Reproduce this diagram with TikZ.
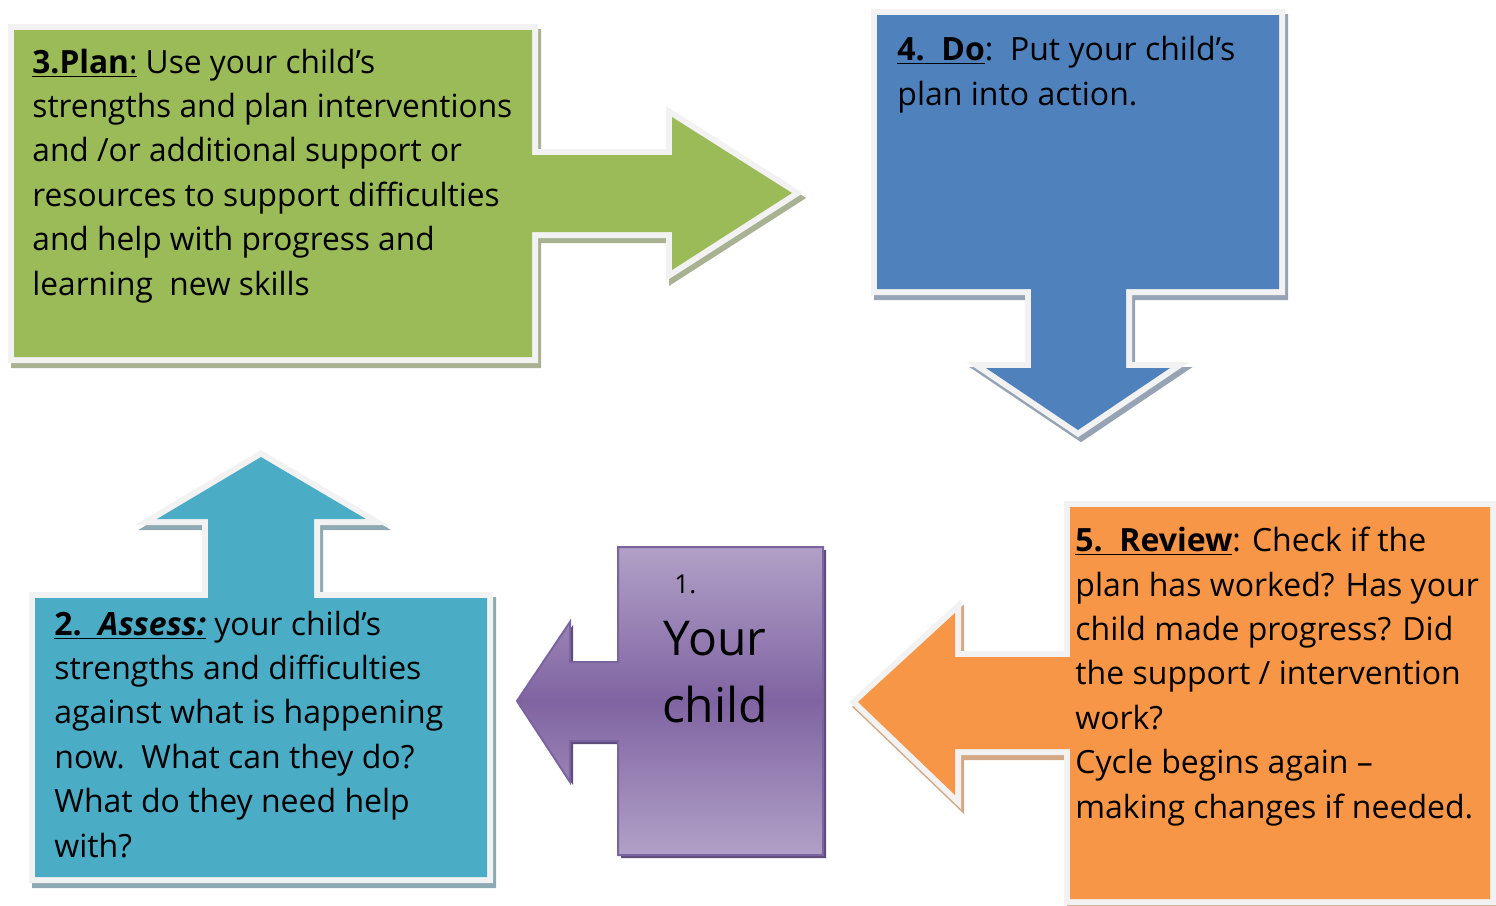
\documentclass[tikz,border=0pt]{standalone}
\usepackage{fontspec}
\setmainfont{Open Sans}
\newfontfamily\wideft{Open Sans}
\newfontfamily\condft[FakeStretch=0.99]{Open Sans}
\definecolor{frameC}{HTML}{F2F2F2}
\definecolor{gFill}{HTML}{9BBB59}
\definecolor{gShad}{HTML}{A8B292}
\definecolor{bFill}{HTML}{4F81BD}
\definecolor{bShad}{HTML}{96A3B5}
\definecolor{tFill}{HTML}{4BACC6}
\definecolor{tShad}{HTML}{8DA9B3}
\definecolor{oFill}{HTML}{F79646}
\definecolor{oShad}{HTML}{D3A985}
\definecolor{pLight}{HTML}{B1A0C7}
\definecolor{pDark}{HTML}{8064A2}
\definecolor{pEdge}{HTML}{7A64A0}
\definecolor{pShad}{HTML}{5F4A7B}
\newcommand\calloutshape[3]{%
  \draw[shift={(3,5)}, fill=#1, draw=#1, line width=6pt, miter limit=10] #3;
  \draw[draw=frameC, line width=6pt, miter limit=10] #3;
  \fill[#2] #3;
}
\begin{document}
\begin{tikzpicture}[x=0.5pt,y=-0.5pt,
  bodytext/.style={anchor=base west, inner sep=0pt, align=left, font=\wideft\fontsize{16}{22.2}\selectfont},
  condtext/.style={bodytext, font=\condft\fontsize{16}{22.2}\selectfont},
]
\useasboundingbox (0,0) rectangle (1496,906);

% 3. Plan (green, arrow right)
\calloutshape{gShad}{gFill}{(14,30) -- (532,30) -- (532,155) -- (672,155) -- (672,117) -- (792,193) -- (672,270) -- (672,232) -- (532,232) -- (532,357) -- (14,357) -- cycle}

% 4. Do (blue, arrow down)
\calloutshape{bShad}{bFill}{(877,15) -- (1279,15) -- (1279,289) -- (1126,289) -- (1126,368) -- (1170,368) -- (1078,430) -- (986,368) -- (1031,368) -- (1031,289) -- (877,289) -- cycle}

% 2. Assess (teal, arrow up)
\calloutshape{tShad}{tFill}{(35,598) -- (208,598) -- (208,519) -- (157,519) -- (261,457) -- (366,519) -- (314,519) -- (314,598) -- (487,598) -- (487,877) -- (35,877) -- cycle}

% 5. Review (orange, arrow left)
\calloutshape{oShad}{oFill}{(1070,507) -- (1490,507) -- (1490,899) -- (1070,899) -- (1070,749) -- (955,749) -- (955,795) -- (858,702) -- (955,613) -- (955,657) -- (1070,657) -- cycle}

% 1. Your child (purple, arrow left)
\fill[pShad, shift={(3,3)}] (618,547) -- (823,547) -- (823,855) -- (618,855) -- (618,741) -- (570,741) -- (570,782) -- (517,701) -- (570,622) -- (570,662) -- (618,662) -- cycle;
\shade[top color=pLight, bottom color=pLight, middle color=pDark, draw=pEdge, line width=1pt] (618,547) -- (823,547) -- (823,855) -- (618,855) -- (618,741) -- (570,741) -- (570,782) -- (517,701) -- (570,622) -- (570,662) -- (618,662) -- cycle;

% texts (anchored at the baseline of the last line)
\node[condtext] (plan) at (32,295) {\underline{\textbf{3.Plan}:} Use your child’s\\
strengths and plan interventions\\
and /or additional support or\\
resources to support difficulties\\
and help with progress and\\
learning\ \ new skills};

\node[bodytext] (do) at (897,105) {\underline{\textbf{4.\ \ Do}}:\ \ Put your child’s\\
plan into action.};

\node[bodytext] (assess) at (54,857) {\underline{\textbf{2.\ \ \textit{Assess:}}} your child’s\\
strengths and difficulties\\
against what is happening\\
now.\ \ What can they do?\\
What do they need help\\
with?};

\node[bodytext] (review) at (1075,818) {\underline{\textbf{5.\ \ Review}}: Check if the\\
plan has worked? Has your\\
child made progress? Did\\
the support / intervention\\
work?\\
Cycle begins again –\\
making changes if needed.};

\node[anchor=base west, inner sep=0pt, font=\wideft\fontsize{13}{15}\selectfont] (num) at (674,593) {1.};
\node[anchor=base, inner sep=0pt, align=center, font=\wideft\fontsize{24}{33.5}\selectfont] (child) at (715,722) {Your\\child};
\end{tikzpicture}
\end{document}
